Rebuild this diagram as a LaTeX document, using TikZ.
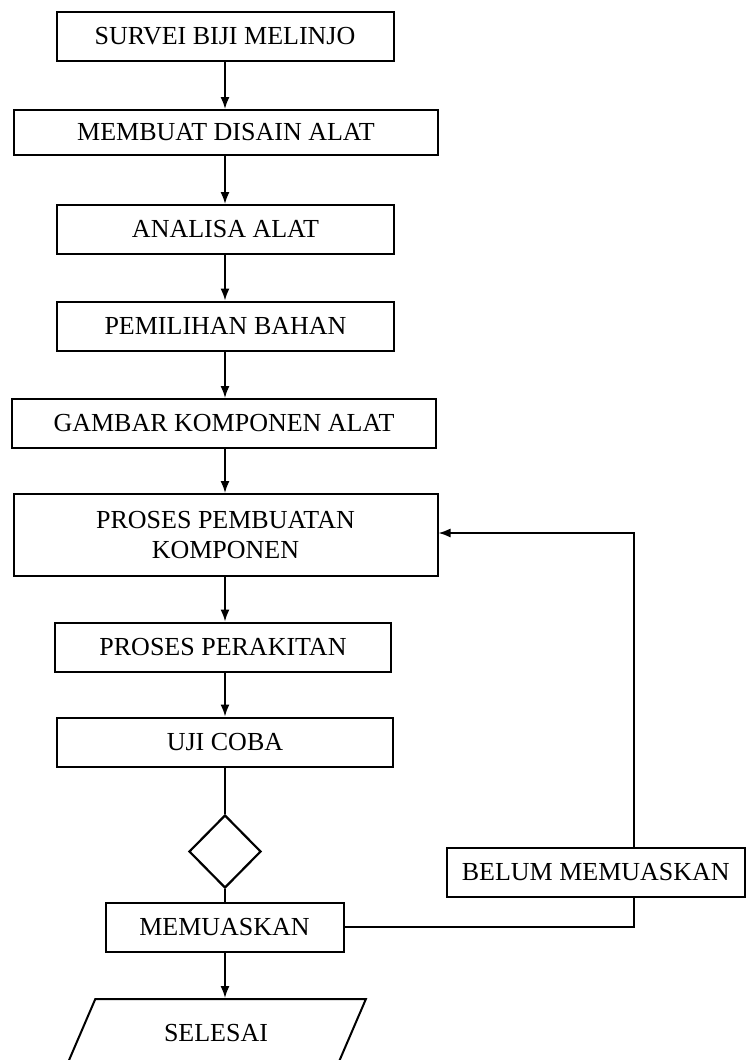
\documentclass[tikz,border=0pt]{standalone}
\usepackage{fontspec}
\setmainfont{Liberation Serif}
\usetikzlibrary{arrows.meta,shapes.geometric}
\begin{document}
\begin{tikzpicture}[x=1pt,y=-1pt,
  boxnode/.style={draw=black,line width=2pt,rectangle,inner sep=0pt,align=center,
    font=\fontsize{26pt}{30pt}\selectfont},
  conn/.style={draw=black,line width=1.6pt},
  arr/.style={conn,-{Latex[length=12pt,width=9pt]}},
  decision/.style={draw=black,line width=2.2pt,diamond,inner sep=0pt,minimum width=72pt,minimum height=73pt,aspect=1},
  endnode/.style={draw=black,line width=2pt,trapezium,trapezium left angle=54.2,trapezium right angle=125.8,
    trapezium stretches=true,minimum width=300pt,minimum height=68pt,inner sep=0pt,
    font=\fontsize{26pt}{30pt}\selectfont}]
\useasboundingbox (0,0) rectangle (746,1060);
\clip (0,0) rectangle (746,1060);
\fill[white] (0,0) rectangle (746,1060);

\node[boxnode,minimum width=337pt,minimum height=49pt] (b1) at (225,36.5) {SURVEI BIJI MELINJO};
\node[boxnode,minimum width=424pt,minimum height=45pt] (b2) at (226,132.5) {MEMBUAT DISAIN ALAT};
\node[boxnode,minimum width=337pt,minimum height=49pt] (b3) at (225.5,229.5) {ANALISA ALAT};
\node[boxnode,minimum width=337pt,minimum height=49pt] (b4) at (225.5,326) {PEMILIHAN BAHAN};
\node[boxnode,minimum width=424pt,minimum height=49pt] (b5) at (224,423.5) {GAMBAR KOMPONEN ALAT};
\node[boxnode,minimum width=424pt,minimum height=82pt] (b6) at (225.5,535) {PROSES PEMBUATAN\\KOMPONEN};
\node[boxnode,minimum width=336pt,minimum height=49pt] (b7) at (223,647) {PROSES PERAKITAN};
\node[boxnode,minimum width=336pt,minimum height=49pt] (b8) at (225,742) {UJI COBA};
\node[decision] (d) at (225,851.5) {};
\node[boxnode,minimum width=238pt,minimum height=49pt] (b9) at (224.5,927) {MEMUASKAN};
\node[boxnode,minimum width=297.5pt,minimum height=49pt] (b10) at (595.75,872.5) {BELUM MEMUASKAN};
\node[endnode] (end) at (216,1033) {SELESAI};

\coordinate (loop) at (633.7,533);

\draw[arr] (b1.south -| d.north) -- (b2.north -| d.north);
\draw[arr] (b2.south -| d.north) -- (b3.north -| d.north);
\draw[arr] (b3.south -| d.north) -- (b4.north -| d.north);
\draw[arr] (b4.south -| d.north) -- (b5.north -| d.north);
\draw[arr] (b5.south -| d.north) -- (b6.north -| d.north);
\draw[arr] (b6.south -| d.north) -- (b7.north -| d.north);
\draw[arr] (b7.south -| d.north) -- (b8.north -| d.north);
\draw[conn] (b8.south -| d.north) -- (d.north);
\draw[conn] (d.south) -- (b9.north -| d.south);
\draw[arr] (b9.south -| d.south) -- (end.north -| d.south);
\draw[conn] (b9.east) -- (b9.east -| loop) -- (b10.south -| loop);
\draw[arr] (b10.north -| loop) -- (loop) -- (loop -| b6.east);
\end{tikzpicture}
\end{document}
